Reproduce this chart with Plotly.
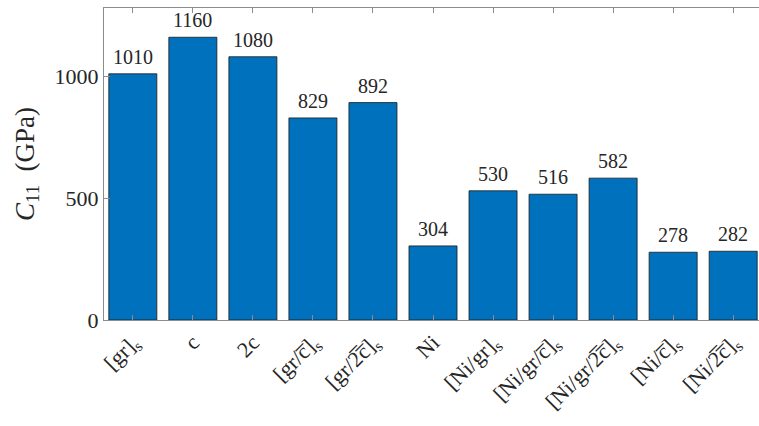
import plotly.graph_objects as go

# Stiffness C11 for each laminate configuration
categories = [
    "[gr]<sub>s</sub>",
    "c",
    "2c",
    "[gr/c\u0305]<sub>s</sub>",
    "[gr/2\u0305c\u0305]<sub>s</sub>",
    "Ni",
    "[Ni/gr]<sub>s</sub>",
    "[Ni/gr/c\u0305]<sub>s</sub>",
    "[Ni/gr/2\u0305c\u0305]<sub>s</sub>",
    "[Ni/c\u0305]<sub>s</sub>",
    "[Ni/2\u0305c\u0305]<sub>s</sub>",
]
c11_gpa = [1010, 1160, 1080, 829, 892, 304, 530, 516, 582, 278, 282]
y_ticks = [0, 500, 1000]

positions = list(range(1, len(categories) + 1))

FONT = "Liberation Serif, serif"
AXIS_GREY = "#8c8c8c"
TEXT = "#262626"

fig = go.Figure(
    go.Bar(
        x=positions,
        y=c11_gpa,
        width=0.8,
        marker=dict(color="#0072BD", line=dict(color="#1a1a1a", width=0.8)),
        hoverinfo="skip",
    )
)

# Value labels above each bar
for xp, v in zip(positions, c11_gpa):
    fig.add_annotation(
        x=xp, y=v, text=str(v), showarrow=False,
        yanchor="bottom", yshift=4,
        font=dict(family=FONT, size=20, color=TEXT),
    )

fig.update_layout(
    width=759, height=426,
    margin=dict(l=104, r=0, t=8, b=106),
    plot_bgcolor="white", paper_bgcolor="white",
    showlegend=False,
    font=dict(family=FONT, color=TEXT),
)

fig.update_xaxes(
    range=[0.52, 11.43],
    tickvals=positions, ticktext=categories,
    tickangle=-45,
    tickfont=dict(family=FONT, size=22, color=TEXT),
    showline=True, linecolor=AXIS_GREY, linewidth=1,
    mirror="ticks",
    ticks="inside", ticklen=5, tickcolor=AXIS_GREY,
    showgrid=False, zeroline=False,
)

fig.update_yaxes(
    range=[0, 1280],
    tickvals=y_ticks, ticktext=[str(t) for t in y_ticks],
    tickfont=dict(family=FONT, size=22, color=TEXT),
    showline=True, linecolor=AXIS_GREY, linewidth=1,
    ticks="inside", ticklen=6, tickcolor=AXIS_GREY,
    showgrid=False, zeroline=False,
    title=dict(
        text="<i>C</i><sub>11</sub>  (GPa)",
        font=dict(family=FONT, size=27, color=TEXT),
        standoff=12,
    ),
)

fig.write_html("out.html")
